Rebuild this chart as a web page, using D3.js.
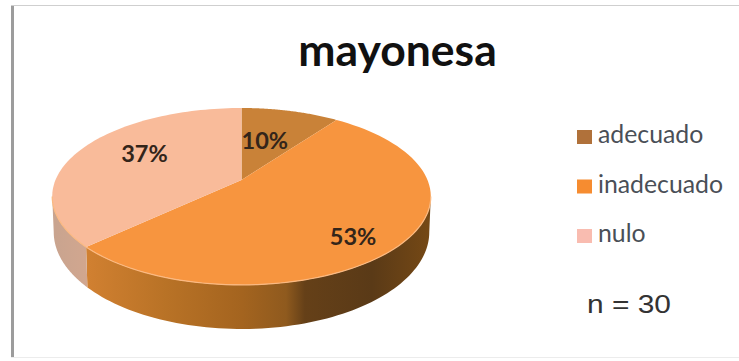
<!DOCTYPE html>
<html>
<head>
<meta charset="utf-8">
<script src="https://cdn.jsdelivr.net/npm/d3@7"></script>
<style>
  html, body { margin: 0; padding: 0; background: #fff; }
  svg { display: block; }
</style>
</head>
<body>
<svg id="chart" width="739" height="361"></svg>
<script>
// Values and labels
const categories = ["adecuado", "inadecuado", "nulo"];
const percentages = [10, 53, 37];
const chartTitle = "mayonesa";
const sampleNote = "n = 30";

// Slice colours
const topColors = ["#c98238", "#f7953f", "#f9bb9a"];
const legendColors = ["#b0713a", "#f68c30", "#f9bcb0"];

const width = 739, height = 361;
const svg = d3.select("#chart");
const defs = svg.append("defs");

// Perspective projection of the pie disc onto the page
const cx = 241.5, apexY = 180, tilt = 0.186;
const radiusX = 186, radiusY = 85.4;
const floorY = 214, floorRadiusX = 184.5, floorRadiusY = 93.6;

const project = (angle, r = 1) => {
  const u = r * Math.sin(angle), v = -r * Math.cos(angle);
  const d = 1 - tilt * v;
  return [cx + radiusX * u / d, apexY + radiusY * v / d];
};
const projectFloor = angle => {
  const u = Math.sin(angle), v = -Math.cos(angle);
  const d = 1 - tilt * v;
  return [cx + floorRadiusX * u / d, floorY + floorRadiusY * v / d];
};

const arcs = d3.pie().sort(null)(percentages);
const line = d3.line();
const sample = (a0, a1) => d3.range(0, 81).map(i => a0 + (a1 - a0) * i / 80);

// Only the front half of the rim has a visible wall
const frontStart = Math.PI - Math.acos(tilt);
const frontEnd = Math.PI + Math.acos(tilt);

const wallGradient = (id, stops) => {
  const g = defs.append("linearGradient").attr("id", id)
    .attr("gradientUnits", "userSpaceOnUse")
    .attr("x1", cx - radiusX).attr("x2", cx + radiusX).attr("y1", 0).attr("y2", 0);
  stops.forEach(([o, c]) => g.append("stop").attr("offset", o).attr("stop-color", c));
  return `url(#${id})`;
};
const wallFills = [
  "#8a5520",
  wallGradient("wallOrange", [
    [0, "#d98a3c"], [0.1, "#cf7f30"], [0.3, "#b87226"], [0.5, "#a4641f"],
    [0.62, "#8f5a1e"], [0.67, "#654018"], [0.85, "#5a3a17"], [1, "#744815"]
  ]),
  wallGradient("wallLight", [[0, "#c9a48f"], [0.1, "#d3a78f"]])
];

// Side walls
const walls = svg.append("g");
arcs.forEach((d, i) => {
  const a0 = Math.max(d.startAngle, frontStart);
  const a1 = Math.min(d.endAngle, frontEnd);
  if (a1 <= a0) return;
  const upper = sample(a0, a1).map(a => project(a));
  const lower = sample(a0, a1).map(projectFloor).reverse();
  walls.append("path")
    .attr("d", line(upper.concat(lower)) + "Z")
    .attr("fill", wallFills[i]);
});

// Top faces
const faces = svg.append("g");
arcs.forEach((d, i) => {
  const rim = sample(d.startAngle, d.endAngle).map(a => project(a));
  faces.append("path")
    .attr("d", line([[cx, apexY], ...rim]) + "Z")
    .attr("fill", topColors[i]);
});

// Light bevel along the front rim
faces.append("path")
  .attr("d", line(sample(frontStart, frontEnd).map(a => project(a))))
  .attr("fill", "none")
  .attr("stroke", "#fbb981")
  .attr("stroke-width", 1.2);

// Percentage labels, placed on the disc
const labelPlacement = [
  { radius: 0.53, turn: -3 },
  { radius: 0.79, turn: 6 },
  { radius: 0.65, turn: 8 }
];
svg.append("g").selectAll("text").data(arcs).join("text")
  .attr("transform", (d, i) => {
    const mid = (d.startAngle + d.endAngle) / 2 + labelPlacement[i].turn * Math.PI / 180;
    return `translate(${project(mid, labelPlacement[i].radius)})`;
  })
  .attr("text-anchor", "middle")
  .attr("dominant-baseline", "central")
  .attr("font-family", "Lato, sans-serif")
  .attr("font-weight", 700)
  .attr("font-size", 23.5)
  .attr("fill", "#33251a")
  .text(d => d.value + "%");

// Title
svg.append("text")
  .attr("x", 397.5).attr("y", 66)
  .attr("text-anchor", "middle")
  .attr("font-family", "Lato, sans-serif")
  .attr("font-weight", 700)
  .attr("font-size", 44.5)
  .attr("fill", "#111")
  .text(chartTitle);

// Legend
const legendY = d3.scalePoint().domain(categories).range([137, 236]);
const legend = svg.append("g").selectAll("g").data(categories).join("g")
  .attr("transform", c => `translate(577,${legendY(c)})`);
legend.append("rect")
  .attr("y", -7).attr("width", 15).attr("height", 14)
  .attr("fill", (c, i) => legendColors[i]);
legend.append("text")
  .attr("x", 21).attr("y", 6)
  .attr("font-family", "Lato, sans-serif")
  .attr("font-size", 24.8)
  .attr("fill", "#4a4f57")
  .text(c => c);

// Sample size note
svg.append("text")
  .attr("x", 587).attr("y", 313)
  .attr("font-family", "'Liberation Sans', Arial, sans-serif")
  .attr("font-size", 26)
  .attr("textLength", 84)
  .attr("lengthAdjust", "spacingAndGlyphs")
  .attr("fill", "#333")
  .text(sampleNote);

// Frame around the chart area
svg.append("path")
  .attr("d", line([[12.5, height - 3], [12.5, 5.5]]))
  .attr("stroke", "#9c9c9c").attr("stroke-width", 3).attr("fill", "none");
svg.append("path")
  .attr("d", line([[11, 5.5], [width, 5.5]]))
  .attr("stroke", "#cfcfcf").attr("stroke-width", 1.2).attr("fill", "none");
svg.append("path")
  .attr("d", line([[11, height - 3.5], [width, height - 3.5]]))
  .attr("stroke", "#ececec").attr("stroke-width", 1).attr("fill", "none");
</script>
</body>
</html>
